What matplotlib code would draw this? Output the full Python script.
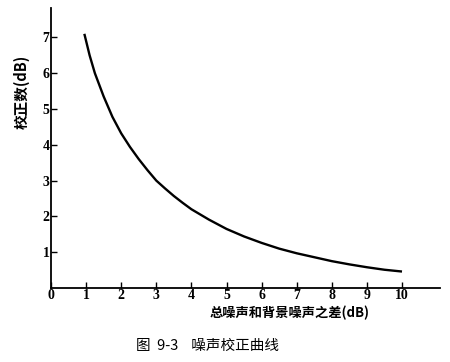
import matplotlib
matplotlib.use("Agg")
import matplotlib.pyplot as plt

# Data
diff_db = [0.95, 1.1, 1.25, 1.5, 1.75, 2.0, 2.25, 2.5, 2.75, 3.0, 3.25, 3.5,
           3.75, 4.0, 4.5, 5.0, 5.5, 6.0, 6.5, 7.0, 7.5, 8.0, 8.5, 9.0, 9.5, 10.0]
correction_db = [7.1, 6.5, 6.0, 5.35, 4.78, 4.32, 3.94, 3.6, 3.29, 3.0, 2.78,
                 2.57, 2.38, 2.2, 1.91, 1.65, 1.44, 1.26, 1.1, 0.97, 0.86, 0.75,
                 0.66, 0.58, 0.51, 0.46]
x_ticks = [0, 1, 2, 3, 4, 5, 6, 7, 8, 9, 10]
y_ticks = [1, 2, 3, 4, 5, 6, 7]

cjk = ['Noto Sans CJK SC', 'DejaVu Sans']
serif = ['Liberation Serif', 'DejaVu Serif']

fig = plt.figure(figsize=(4.5, 3.62), dpi=100)
ax = fig.add_axes([51 / 450, 1 - 288 / 362, (440 - 51) / 450, (288 - 8) / 362])

ax.plot(diff_db, correction_db, color='black', lw=1.7, solid_capstyle='butt',
        solid_joinstyle='round')

ax.set_xlim(0, (440 - 51) / 35.1)
ax.set_ylim(0, 280 / 35.8)
for s in ['top', 'right']:
    ax.spines[s].set_visible(False)
for s in ['left', 'bottom']:
    ax.spines[s].set_linewidth(1.3)

ax.set_xticks(x_ticks)
ax.set_xticklabels([str(v) for v in x_ticks], family=serif, fontsize=10, fontweight='bold')
ax.set_yticks(y_ticks)
ax.set_yticklabels([str(v) for v in y_ticks], family=serif, fontsize=10, fontweight='bold')
ax.tick_params(axis='both', direction='in', length=4, width=1, pad=1, colors='black')

fig.text(22 / 450, 1 - 92 / 362, '校正数(dB)', family=cjk, fontsize=10.5, fontweight='bold',
         rotation=90, ha='center', va='center')
fig.text(290 / 450, 1 - 313 / 362, '总噪声和背景噪声之差(dB)', family=cjk, fontsize=9.5,
         fontweight='bold', ha='center', va='center')
fig.text(208 / 450, 1 - 346 / 362, '图  9-3    噪声校正曲线', family=cjk, fontsize=10.5,
         ha='center', va='center')

fig.savefig('out.png', dpi=100)
